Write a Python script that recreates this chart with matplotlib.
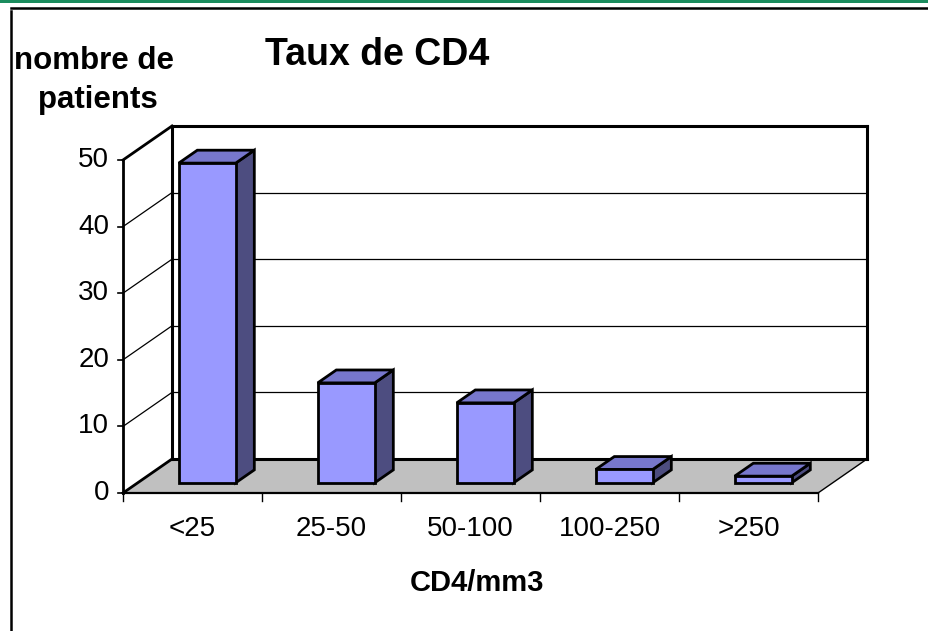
import matplotlib
matplotlib.use("Agg")
import matplotlib.pyplot as plt
from matplotlib.patches import Polygon, Rectangle
from matplotlib.lines import Line2D

plt.rcParams['font.family'] = ['Liberation Sans', 'DejaVu Sans']

# ---- data ----
categories = ["<25", "25-50", "50-100", "100-250", ">250"]
patients = [48, 15, 12, 2, 1]
yticks = [0, 10, 20, 30, 40, 50]
title = "Taux de CD4"
xlabel = "CD4/mm3"
ylabel_lines = ["nombre de", "patients"]

W, H = 929, 631
fig = plt.figure(figsize=(W / 100, H / 100), dpi=100)
ax = fig.add_axes([0, 0, 1, 1])

# axis scales: one category = 139 px, 10 patients = 66.6 px
CPX = 139.0
VPX = 6.66
X0PX, Y0PX = 123.0, 493.0
ax.set_xlim((0 - X0PX) / CPX, (W - X0PX) / CPX)
ax.set_ylim((Y0PX - H) / VPX, (Y0PX - 0) / VPX)
ax.axis("off")

DX = 49.0 / CPX   # depth offset in category units
DY = 34.0 / VPX   # depth offset in value units
ncat = len(categories)
ymax = yticks[-1]


def P(x, y, d):
    return (x + d * DX, y + d * DY)


# floor
floor = Polygon([P(0, 0, 0), P(ncat, 0, 0), P(ncat, 0, 1), P(0, 0, 1)],
                closed=True, facecolor="#C0C0C0", edgecolor="none", zorder=1)
ax.add_patch(floor)
# back wall
back = Polygon([P(0, 0, 1), P(ncat, 0, 1), P(ncat, ymax, 1), P(0, ymax, 1)],
               closed=True, facecolor="white", edgecolor="none", zorder=1)
ax.add_patch(back)

# gridlines on back wall and side wall
for v in yticks[1:-1]:
    a, b = P(0, v, 1), P(ncat, v, 1)
    ax.plot([a[0], b[0]], [a[1], b[1]], color="black", lw=0.9, zorder=2)
    c = P(0, v, 0)
    ax.plot([c[0], a[0]], [c[1], a[1]], color="black", lw=0.9, zorder=2)

# wall outlines
def seg(p, q, lw, z=3, color="black"):
    ax.plot([p[0], q[0]], [p[1], q[1]], color=color, lw=lw, zorder=z,
            solid_capstyle="projecting")

seg(P(0, ymax, 1), P(ncat, ymax, 1), 2.2)
seg(P(ncat, ymax, 1), P(ncat, 0, 1), 2.2)
seg(P(0, 0, 1), P(ncat, 0, 1), 2.2)
seg(P(0, 0, 1), P(0, ymax, 1), 2.2)
seg(P(0, 0, 0), P(0, 0, 1), 2.0)
seg(P(0, ymax, 0), P(0, ymax, 1), 2.0)
seg(P(0, 0, 0), P(0, ymax, 0), 2.0)
seg(P(0, 0, 0), P(ncat, 0, 0), 1.6)
seg(P(ncat, 0, 0), P(ncat, 0, 1), 1.0)

# y ticks & labels
for v in yticks:
    seg((-5 / CPX, v), (0, v), 1.2)
    ax.text(-14 / CPX, v, str(v), ha="right", va="center", fontsize=20)

# category ticks & labels
for i in range(ncat + 1):
    seg((i, 0), (i, -8 / VPX), 1.0)
for i, c in enumerate(categories):
    ax.text(i + 0.5, (Y0PX - 529) / VPX, c, ha="center", va="center", fontsize=20)

# bars
BW = 0.41
D0, D1 = 0.30, 0.68
front_c, top_c, side_c = "#9999FF", "#7777CC", "#4D4D80"
for i, v in enumerate(patients):
    xl, xr = i + 0.5 - BW / 2, i + 0.5 + BW / 2
    front = [P(xl, 0, D0), P(xr, 0, D0), P(xr, v, D0), P(xl, v, D0)]
    top = [P(xl, v, D0), P(xr, v, D0), P(xr, v, D1), P(xl, v, D1)]
    side = [P(xr, 0, D0), P(xr, 0, D1), P(xr, v, D1), P(xr, v, D0)]
    for pts, col in ((side, side_c), (top, top_c), (front, front_c)):
        ax.add_patch(Polygon(pts, closed=True, facecolor=col, edgecolor="black",
                             lw=2.0, joinstyle="miter", zorder=5))

# titles
fig.text(377 / W, 1 - 55 / H, title, ha="center", va="center",
         fontsize=27, fontweight="bold")
fig.text(477 / W, 1 - 583 / H, xlabel, ha="center", va="center",
         fontsize=21, fontweight="bold")
fig.text(94 / W, 1 - 61 / H, ylabel_lines[0], ha="center", va="center",
         fontsize=22.5, fontweight="bold")
fig.text(98 / W, 1 - 100 / H, ylabel_lines[1], ha="center", va="center",
         fontsize=22.5, fontweight="bold")

# outer frame decorations
fig.patches.append(Rectangle((0, 1 - 2.5 / H), 1, 2.5 / H, transform=fig.transFigure,
                             facecolor="#1B8C5E", edgecolor="none"))
fig.lines.append(Line2D([11 / W, 1], [1 - 7.5 / H, 1 - 7.5 / H],
                        transform=fig.transFigure, color="black", lw=1.8))
fig.lines.append(Line2D([11.5 / W, 11.5 / W], [1 - 11 / H, 0],
                        transform=fig.transFigure, color="black", lw=1.8))

fig.savefig("out.png", dpi=100)
